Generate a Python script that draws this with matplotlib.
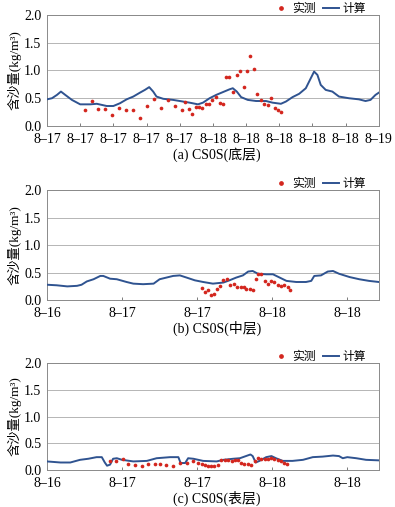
import numpy as np
import matplotlib
matplotlib.use("Agg")
import matplotlib.pyplot as plt
from matplotlib.lines import Line2D

plt.rcParams['font.family'] = ['Liberation Serif', 'Noto Sans CJK SC']
plt.rcParams['font.size'] = 8
plt.rcParams['axes.unicode_minus'] = False

# ---- panel (a): bottom layer, x in tick units (11 ticks) ----
a_ticks = ['8–17', '8–17', '8–17', '8–17', '8–17',
           '8–18', '8–18', '8–18', '8–18', '8–18', '8–19']
a_calc_x = [0, 0.15, 0.3, 0.42, 0.55, 0.75, 1.0, 1.3, 1.5, 1.8, 2.0, 2.2, 2.4, 2.6,
            2.8, 2.95, 3.08, 3.2, 3.3, 3.5, 3.8, 4.1, 4.3, 4.55, 4.7, 4.9, 5.1,
            5.3, 5.5, 5.6, 5.72, 5.85, 6.05, 6.3, 6.6, 6.8, 7.05, 7.2, 7.4, 7.6,
            7.8, 7.95, 8.05, 8.15, 8.25, 8.4, 8.6, 8.8, 9.1, 9.4, 9.6, 9.75, 9.9, 10.0]
a_calc_y = [0.48, 0.50, 0.56, 0.62, 0.56, 0.47, 0.39, 0.39, 0.40, 0.36, 0.36, 0.41,
            0.48, 0.53, 0.60, 0.65, 0.70, 0.62, 0.53, 0.49, 0.47, 0.44, 0.42, 0.39,
            0.42, 0.50, 0.56, 0.61, 0.66, 0.68, 0.62, 0.52, 0.47, 0.45, 0.45, 0.42,
            0.40, 0.44, 0.52, 0.58, 0.68, 0.86, 0.98, 0.92, 0.74, 0.65, 0.62, 0.53,
            0.50, 0.48, 0.45, 0.47, 0.56, 0.60]
a_obs_x = [1.15, 1.35, 1.55, 1.76, 1.97, 2.18, 2.38, 2.6, 2.8, 3.02, 3.22, 3.44,
           3.65, 3.85, 4.06, 4.17, 4.28, 4.38, 4.48, 4.58, 4.68, 4.78, 4.88, 4.98,
           5.1, 5.2, 5.3, 5.4, 5.5, 5.62, 5.72, 5.82, 5.93, 6.03, 6.13, 6.24, 6.34,
           6.44, 6.55, 6.65, 6.75, 6.86, 6.96, 7.06]
a_obs_y = [0.28, 0.45, 0.31, 0.31, 0.19, 0.32, 0.28, 0.29, 0.14, 0.36, 0.49, 0.32,
           0.46, 0.36, 0.29, 0.43, 0.30, 0.22, 0.34, 0.35, 0.33, 0.40, 0.40, 0.47,
           0.53, 0.42, 0.39, 0.88, 0.89, 0.61, 0.91, 0.99, 0.70, 0.99, 1.26, 1.02,
           0.57, 0.47, 0.40, 0.37, 0.50, 0.32, 0.28, 0.25]

# ---- panels (b) and (c): x in tick units (5 ticks) ----
bc_ticks = ['8–16', '8–17', '8–17', '8–18', '8–18']

b_calc_x = [0, 0.13, 0.27, 0.4, 0.46, 0.53, 0.62, 0.71, 0.75, 0.84, 0.93, 1.06,
            1.15, 1.28, 1.42, 1.5, 1.59, 1.68, 1.77, 1.86, 1.97, 2.08, 2.21, 2.35,
            2.43, 2.52, 2.61, 2.68, 2.74, 2.81, 2.92, 3.01, 3.1, 3.19, 3.32, 3.45,
            3.52, 3.56, 3.65, 3.74, 3.81, 3.89, 4.03, 4.16, 4.29, 4.42]
b_calc_y = [0.28, 0.27, 0.25, 0.26, 0.28, 0.34, 0.38, 0.44, 0.44, 0.39, 0.38, 0.33,
            0.30, 0.29, 0.30, 0.38, 0.41, 0.44, 0.45, 0.41, 0.36, 0.33, 0.30, 0.32,
            0.36, 0.41, 0.45, 0.52, 0.53, 0.48, 0.47, 0.47, 0.41, 0.35, 0.33, 0.33,
            0.35, 0.44, 0.45, 0.52, 0.53, 0.48, 0.42, 0.38, 0.35, 0.33]
b_obs_x = [2.06, 2.1, 2.15, 2.19, 2.23, 2.27, 2.31, 2.35, 2.4, 2.44, 2.49, 2.53,
           2.58, 2.62, 2.65, 2.7, 2.74, 2.78, 2.81, 2.85, 2.9, 2.94, 2.99, 3.03,
           3.08, 3.12, 3.16, 3.21, 3.24]
b_obs_y = [0.22, 0.15, 0.18, 0.09, 0.11, 0.20, 0.25, 0.36, 0.39, 0.27, 0.29, 0.24,
           0.24, 0.23, 0.20, 0.21, 0.19, 0.38, 0.47, 0.47, 0.34, 0.30, 0.35, 0.33,
           0.27, 0.26, 0.27, 0.23, 0.18]

c_calc_x = [0, 0.18, 0.31, 0.44, 0.55, 0.66, 0.73, 0.77, 0.8, 0.84, 0.88, 0.93,
            1.0, 1.15, 1.33, 1.46, 1.64, 1.75, 1.78, 1.84, 1.88, 1.95, 2.08, 2.26,
            2.35, 2.48, 2.57, 2.65, 2.71, 2.74, 2.78, 2.83, 2.92, 2.99, 3.05, 3.14,
            3.27, 3.41, 3.54, 3.67, 3.81, 3.89, 3.94, 4.0, 4.12, 4.25, 4.42]
c_calc_y = [0.16, 0.14, 0.14, 0.19, 0.21, 0.24, 0.24, 0.14, 0.08, 0.10, 0.21, 0.22,
            0.19, 0.16, 0.17, 0.22, 0.24, 0.24, 0.13, 0.13, 0.22, 0.21, 0.17, 0.16,
            0.19, 0.21, 0.22, 0.26, 0.29, 0.26, 0.14, 0.17, 0.24, 0.26, 0.22, 0.17,
            0.17, 0.19, 0.24, 0.25, 0.27, 0.26, 0.22, 0.24, 0.22, 0.19, 0.18]
c_obs_x = [0.84, 0.92, 1.01, 1.08, 1.17, 1.26, 1.35, 1.44, 1.51, 1.59, 1.68, 1.77,
           1.86, 1.94, 2.01, 2.06, 2.1, 2.15, 2.19, 2.23, 2.28, 2.32, 2.37, 2.41,
           2.46, 2.5, 2.54, 2.59, 2.63, 2.68, 2.72, 2.77, 2.81, 2.85, 2.9, 2.94,
           2.99, 3.03, 3.08, 3.12, 3.16, 3.2]
c_obs_y = [0.16, 0.16, 0.21, 0.11, 0.10, 0.07, 0.11, 0.11, 0.11, 0.10, 0.07, 0.14,
           0.14, 0.16, 0.13, 0.11, 0.10, 0.08, 0.08, 0.08, 0.09, 0.19, 0.19, 0.19,
           0.17, 0.19, 0.19, 0.13, 0.11, 0.11, 0.09, 0.17, 0.23, 0.20, 0.20, 0.20,
           0.22, 0.21, 0.19, 0.16, 0.13, 0.11]

captions = ['(a) CS0S(底层)', '(b) CS0S(中层)', '(c) CS0S(表层)']

line_color = '#2f5390'
dot_color = '#d3261e'
grid_color = '#b5b5b5'

fig = plt.figure(figsize=(3.95, 5.07), dpi=100)

# axes boxes in figure fractions
boxes = [[0.119, 0.7515, 0.840, 0.219],
         [0.119, 0.408, 0.840, 0.217],
         [0.119, 0.073, 0.840, 0.211]]
# caption centre, figure fraction
cap_y = [1 - 155 / 507, 1 - 328 / 507, 1 - 498 / 507]

panels = [
    (a_calc_x, a_calc_y, a_obs_x, a_obs_y, a_ticks, 10.0),
    (b_calc_x, b_calc_y, b_obs_x, b_obs_y, bc_ticks, 4.42),
    (c_calc_x, c_calc_y, c_obs_x, c_obs_y, bc_ticks, 4.42),
]

for i, (cx, cy, ox, oy, ticks, xmax) in enumerate(panels):
    ax = fig.add_axes(boxes[i])
    ax.plot(cx, cy, color=line_color, lw=1.4, zorder=3)
    ax.scatter(ox, oy, s=7, color=dot_color, zorder=4, linewidths=0)
    ax.set_xlim(0, xmax)
    ax.set_ylim(0, 2.0)
    ax.set_yticks([0.0, 0.5, 1.0, 1.5, 2.0])
    ax.set_yticklabels(['0.0', '0.5', '1.0', '1.5', '2.0'], fontsize=10)
    ax.set_xticks(range(len(ticks)))
    ax.set_xticklabels(ticks, fontsize=10)
    ax.yaxis.grid(True, color=grid_color, lw=0.7)
    ax.set_axisbelow(True)
    ax.tick_params(axis='y', length=0, pad=4)
    ax.tick_params(axis='x', direction='in', length=2.5, width=0.6,
                   color='#666666', pad=5)
    for side in ['left', 'bottom', 'right', 'top']:
        ax.spines[side].set_color('#8a8a8a')
        ax.spines[side].set_linewidth(0.7)
    ax.set_ylabel('含沙量(kg/m³)', fontsize=9.5, labelpad=2)

    handles = [Line2D([], [], marker='o', ls='none', color=dot_color, markersize=2.4),
               Line2D([], [], color=line_color, lw=1.4)]
    ax.legend(handles, ['实测', '计算'], loc='lower right',
              bbox_to_anchor=(0.97, 0.98), ncol=2, frameon=False,
              fontsize=8.5, handlelength=1.4, handletextpad=0.3,
              columnspacing=0.6, borderpad=0.1, borderaxespad=0.1)

    fig.text(boxes[i][0] + boxes[i][2] / 2 + 0.01, cap_y[i], captions[i],
             ha='center', va='center', fontsize=10)

fig.savefig('out.png', dpi=100)
